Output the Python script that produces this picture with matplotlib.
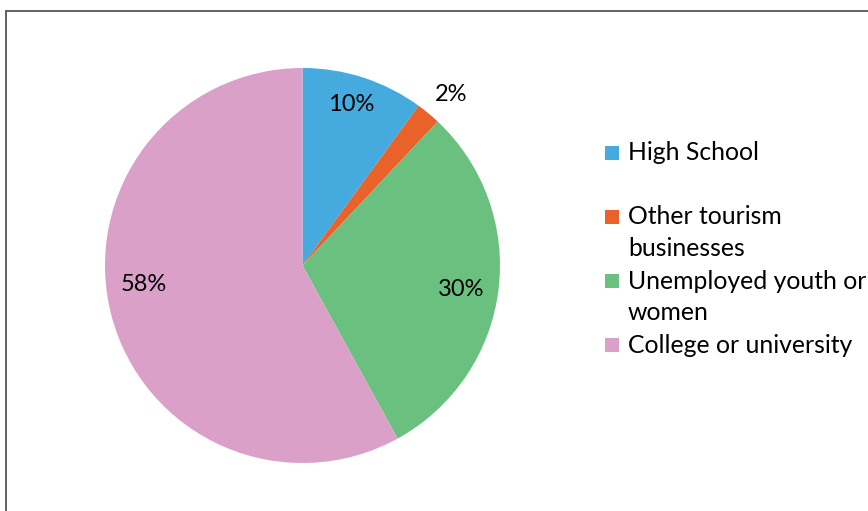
import numpy as np
import matplotlib.pyplot as plt
from matplotlib.patches import Rectangle

plt.rcParams['font.family'] = ['Lato', 'DejaVu Sans']

categories = ['High School', 'Other tourism\nbusinesses', 'Unemployed youth or\nwomen', 'College or university']
shares = [10, 2, 30, 58]
colors = ['#45ABDF', '#E8622A', '#6AC17F', '#DAA0C8']

W, H = 868, 511
fig = plt.figure(figsize=(W / 100, H / 100), dpi=100)

# outer frame (right and bottom edges fall outside the canvas)
fig.add_artist(Rectangle((5.5 / W, -0.1), 1.2, 1 - 11.5 / H + 0.1, transform=fig.transFigure,
                         fill=False, edgecolor='#555555', linewidth=1.3))

# pie placed in pixel terms: centre (302.5, 265.5), radius 197.5
cx, cy, r = 302.5, 265.5, 197.5
ax = fig.add_axes([(cx - r) / W, (H - cy - r) / H, 2 * r / W, 2 * r / H])
wedges, _, autotexts = ax.pie(shares, colors=colors, startangle=90, counterclock=False,
                              radius=1, autopct=lambda p: f'{p:.0f}%', pctdistance=0.82,
                              wedgeprops=dict(linewidth=0),
                              textprops=dict(fontsize=17, color='black'))
ax.set_xlim(-1, 1)
ax.set_ylim(-1, 1)
ax.set_aspect('equal')
ax.axis('off')

# label placement (distance, angle in degrees)
label_pos = [(0.85, 73), (1.15, 49), (0.81, -8.5), (0.81, 187)]
for t, (d, a) in zip(autotexts, label_pos):
    t.set_position((d * np.cos(np.radians(a)), d * np.sin(np.radians(a))))
    t.set_ha('center')
    t.set_va('center')

# legend drawn by hand so the long entry runs off the right edge
entry_y = [153, 217, 281, 345]
line_gap = 31
for label, col, y in zip(categories, colors, entry_y):
    fig.add_artist(Rectangle((605 / W, 1 - (y + 7) / H), 14 / W, 14 / H,
                             transform=fig.transFigure, facecolor=col, edgecolor='none'))
    for k, line in enumerate(label.split('\n')):
        fig.text(628 / W, 1 - (y + k * line_gap) / H, line, fontsize=17.8,
                 ha='left', va='center', color='black')

fig.savefig('out.png', dpi=100)
